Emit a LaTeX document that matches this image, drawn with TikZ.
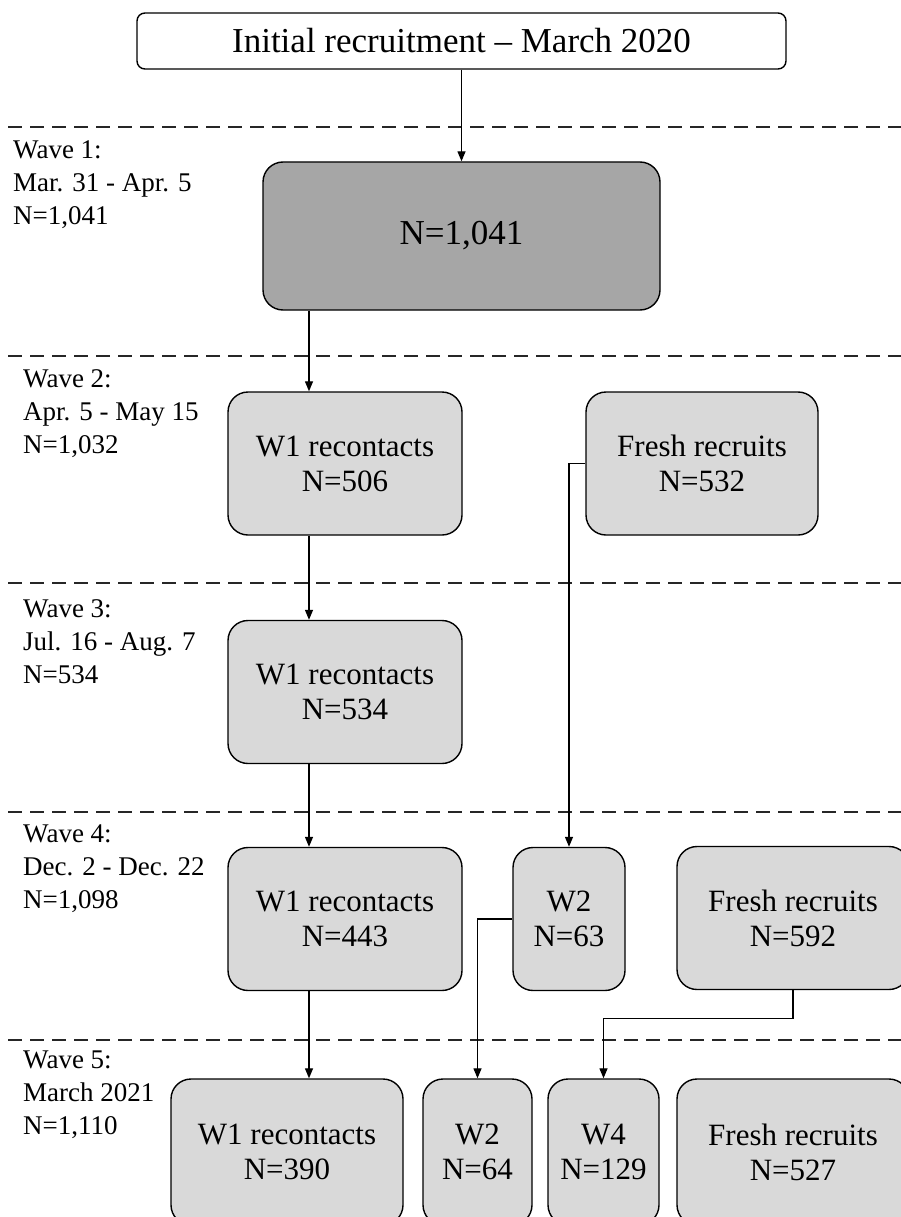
\documentclass[tikz,border=0pt]{standalone}
\usepackage{fontspec}
\setmainfont{Liberation Serif}
\usetikzlibrary{positioning,arrows.meta}
\definecolor{dark}{HTML}{A6A6A6}
\definecolor{mid}{HTML}{D9D9D9}
\definecolor{pale}{HTML}{E8E8E8}
\tikzset{
  >={Triangle[length=10pt,width=8pt]},
  box/.style={draw, line width=1.4pt, rounded corners=20pt, align=center,
              inner sep=0pt, fill=mid, font=\fontsize{31}{35}\selectfont},
  wave/.style={anchor=west, align=left, inner sep=0pt,
               font=\fontsize{27}{33}\selectfont},
  sep/.style={dash pattern=on 14pt off 8pt, line width=1.5pt, black!85},
  link/.style={->, line width=1.3pt},
}

\begin{document}
\begin{tikzpicture}[x=1pt, y=-1pt]
    \clip (0,0) rectangle (901,1217);
    \fill[white] (0,0) rectangle (901,1217);
    % separators between waves
    \foreach \y in {127,356,583,812,1040}
      \draw[sep] (8,\y) -- (901,\y);
    % wave labels
    \node[wave] (lab1) at (13,185) {Wave 1:\\Mar. 31 - Apr. 5\\N=1,041};
    \node[wave] (lab2) at (23,414) {Wave 2:\\Apr. 5 - May 15\\N=1,032};
    \node[wave] (lab3) at (23,642) {Wave 3:\\Jul. 16 - Aug. 7\\N=534};
    \node[wave] (lab4) at (23,869) {Wave 4:\\Dec. 2 - Dec. 22\\N=1,098};
    \node[wave] (lab5) at (23,1095) {Wave 5:\\March 2021\\N=1,110};

    \node[box, fill=white, rounded corners=8pt, minimum width=649pt,
          minimum height=56pt, font=\fontsize{35}{40}\selectfont]
          (init) at (461.5,41) {Initial recruitment \textendash{} March 2020};
    \node[box, fill=dark, minimum width=397pt, minimum height=148pt,
          font=\fontsize{35}{40}\selectfont] (n1) at (461.5,236) {N=1,041};

    \begin{scope}[every node/.append style={minimum height=143pt}]
      \node[box, minimum width=234pt] (w2rec) at (345,463.5) {W1 recontacts\\N=506};
      \node[box, minimum width=232pt] (w2new) at (702,463.5) {Fresh recruits\\N=532};
      \node[box, minimum width=234pt] (w3rec) at (345,692) {W1 recontacts\\N=534};
      \node[box, minimum width=234pt] (w4rec) at (345,919) {W1 recontacts\\N=443};
      \node[box, minimum width=112pt] (w4old) at (569,919) {W2\\N=63};
      \node[box, minimum width=232pt] (w4new) at (793,918) {Fresh recruits\\N=592};
    \end{scope}

    \begin{scope}[every node/.append style={fill=pale, minimum height=146pt}]
      \node[box, minimum width=232pt] (w5rec) at (287,1152) {W1 recontacts\\N=390};
      \node[box, minimum width=109pt] (w5old) at (477.5,1152) {W2\\N=64};
      \node[box, minimum width=111pt] (w5w4) at (603.5,1152) {W4\\N=129};
      \node[box, minimum width=232pt] (w5new) at (793,1152) {Fresh recruits\\N=527};
    \end{scope}

    \draw[link] (init) -- (n1);
    \draw[link] ([xshift=-36pt]w2rec.north |- n1.south) -- ([xshift=-36pt]w2rec.north);
    \draw[link] ([xshift=-36pt]w2rec.south) -- ([xshift=-36pt]w3rec.north);
    \draw[link] ([xshift=-36pt]w3rec.south) -- ([xshift=-36pt]w4rec.north);
    \draw[link] ([xshift=-36pt]w4rec.south) -- ([xshift=-36pt]w4rec.south |- w5rec.north);
    \draw[link] (w2new.west) -| (w4old.north);
    \draw[link] (w4old.west) -| (w5old.north);
    \draw[link] (w4new.south) -- ++(0,28) -| (w5w4.north);
\end{tikzpicture}
\end{document}
